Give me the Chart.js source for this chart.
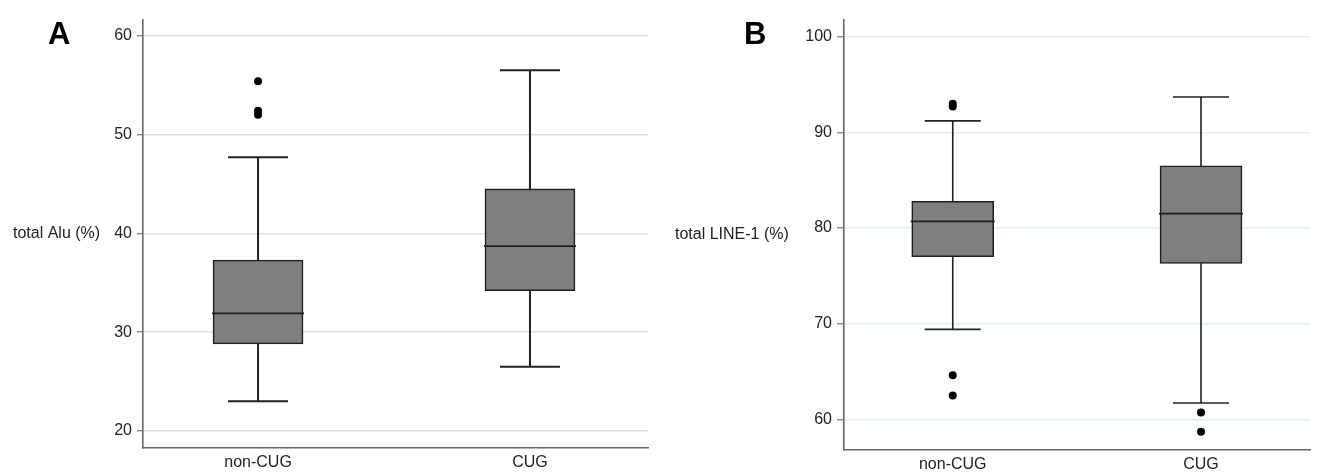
<!DOCTYPE html>
<html>
<head>
<meta charset="utf-8">
<script src="https://cdn.jsdelivr.net/npm/chart.js@4/dist/chart.umd.min.js"></script>
<style>
  html, body { margin: 0; padding: 0; background: #fff; }
  #wrap { position: relative; width: 1330px; height: 475px; overflow: hidden; }
  .panel { position: absolute; top: 0; height: 475px; }
  #pa { left: 0; width: 660px; }
  #pb { left: 660px; width: 670px; }
</style>
</head>
<body>
<div id="wrap">
  <div class="panel" id="pa"><canvas id="ca"></canvas></div>
  <div class="panel" id="pb"><canvas id="cb"></canvas></div>
</div>
<script>
// ---------- data ----------
const categories = ['non-CUG', 'CUG'];

// Panel A: total Alu (%)
const aluWhiskerLow  = [23.0, 26.5];
const aluQ1          = [28.8, 34.2];
const aluMedian      = [31.9, 38.7];
const aluQ3          = [37.3, 44.5];
const aluWhiskerHigh = [47.7, 56.5];
const aluOutliers    = [[52.0, 52.4, 55.4], []];
const aluTicks       = [20, 30, 40, 50, 60];

// Panel B: total LINE-1 (%)
const lineWhiskerLow  = [69.4, 61.7];
const lineQ1          = [77.0, 76.3];
const lineMedian      = [80.7, 81.5];
const lineQ3          = [82.8, 86.5];
const lineWhiskerHigh = [91.2, 93.7];
const lineOutliers    = [[62.5, 64.6, 92.7, 93.0], [58.7, 60.7]];
const lineTicks       = [60, 70, 80, 90, 100];

// ---------- helpers ----------
Chart.defaults.font.family = '"Liberation Sans", Arial, Helvetica, sans-serif';
Chart.defaults.color = '#222';

const panelText = {
  id: 'panelText',
  afterDraw(chart, args, o) {
    const { ctx, chartArea } = chart;
    ctx.save();
    ctx.fillStyle = '#000';
    ctx.font = 'bold 31px "Liberation Sans", Arial, sans-serif';
    ctx.textBaseline = 'alphabetic';
    ctx.textAlign = 'left';
    ctx.fillText(o.letter, o.letterX, o.letterY);
    ctx.fillStyle = '#222';
    ctx.font = '16px "Liberation Sans", Arial, sans-serif';
    ctx.textBaseline = 'middle';
    ctx.fillText(o.title, o.titleX, (chartArea.top + chartArea.bottom) / 2);
    ctx.restore();
  }
};

function buildChart(canvasId, d, s) {
  const pos = categories.map((c, i) => i + 1);
  const whiskers = [];
  pos.forEach((x, i) => {
    if (i > 0) whiskers.push({ x: x - 0.5, y: null });
    whiskers.push({ x, y: d.lo[i] }, { x, y: d.hi[i] });
  });
  const caps = [];
  pos.forEach((x, i) => { caps.push({ x, y: d.lo[i] }, { x, y: d.hi[i] }); });
  const boxes = pos.map((x, i) => ({ x, y: [d.q1[i], d.q3[i]] }));
  const medians = pos.map((x, i) => ({ x, y: d.med[i] }));
  const outs = [];
  pos.forEach((x, i) => d.out[i].forEach(v => outs.push({ x, y: v })));

  return new Chart(document.getElementById(canvasId), {
    type: 'bar',
    data: {
      datasets: [
        { type: 'line', data: whiskers, borderColor: '#222', borderWidth: s.lw,
          pointRadius: 0, spanGaps: false, order: 4 },
        { type: 'bar', data: boxes, backgroundColor: '#7f7f7f', borderColor: '#1e1e1e',
          borderWidth: 1.6, borderSkipped: false, barThickness: s.boxW, grouped: false, order: 3 },
        { type: 'line', data: caps, showLine: false, pointStyle: 'line', pointRadius: s.capR,
          pointBorderColor: '#222', pointBorderWidth: s.lw, order: 2 },
        { type: 'line', data: medians, showLine: false, pointStyle: 'line', pointRadius: s.medR,
          pointBorderColor: '#1e1e1e', pointBorderWidth: 1.8, order: 1 },
        { type: 'line', data: outs, showLine: false, pointStyle: 'circle', pointRadius: 4,
          pointBackgroundColor: '#000', pointBorderColor: '#000', pointBorderWidth: 0, order: 0 }
      ]
    },
    options: {
      responsive: true,
      maintainAspectRatio: false,
      animation: false,
      events: [],
      layout: { autoPadding: false, padding: { top: 20, right: s.padR, bottom: 0, left: 0 } },
      plugins: {
        legend: { display: false },
        tooltip: { enabled: false },
        panelText: { letter: s.letter, letterX: s.letterX, letterY: 44, title: s.title, titleX: s.titleX }
      },
      scales: {
        x: {
          type: 'linear',
          offset: false,
          min: s.xMin, max: s.xMax,
          afterBuildTicks: ax => { ax.ticks = pos.map(v => ({ value: v })); },
          afterFit: ax => { ax.height = s.xH; },
          ticks: { callback: v => categories[v - 1] || '', font: { size: 16 }, color: '#222', padding: 5, maxRotation: 0 },
          grid: { display: false, drawTicks: false, offset: false },
          border: { color: '#666', width: 1.6 }
        },
        y: {
          type: 'linear',
          min: s.yMin, max: s.yMax,
          afterBuildTicks: ax => { ax.ticks = d.ticks.map(v => ({ value: v })); },
          afterFit: ax => { ax.width = s.yW; },
          ticks: { font: { size: 16 }, color: '#222', padding: 5 },
          grid: { color: s.gridColor, lineWidth: 1.5, tickLength: s.tickLen, tickColor: '#777', tickWidth: 1.2 },
          border: { color: '#666', width: 1.6 }
        }
      }
    },
    plugins: [panelText]
  });
}

buildChart('ca',
  { lo: aluWhiskerLow, q1: aluQ1, med: aluMedian, q3: aluQ3, hi: aluWhiskerHigh, out: aluOutliers, ticks: aluTicks },
  { letter: 'A', letterX: 48, title: 'total Alu (%)', titleX: 13,
    xMin: 0.577, xMax: 2.434, yMin: 18.28, yMax: 61.59, yW: 143, xH: 27, padR: 12,
    boxW: 90, capR: 30, medR: 46, lw: 2, tickLen: 6, gridColor: '#dedede' });

buildChart('cb',
  { lo: lineWhiskerLow, q1: lineQ1, med: lineMedian, q3: lineQ3, hi: lineWhiskerHigh, out: lineOutliers, ticks: lineTicks },
  { letter: 'B', letterX: 84, title: 'total LINE-1 (%)', titleX: 15,
    xMin: 0.562, xMax: 2.439, yMin: 56.79, yMax: 101.75, yW: 184, xH: 25, padR: 20,
    boxW: 82, capR: 28, medR: 42, lw: 1.6, tickLen: 7, gridColor: '#e3eded' });
</script>
</body>
</html>
